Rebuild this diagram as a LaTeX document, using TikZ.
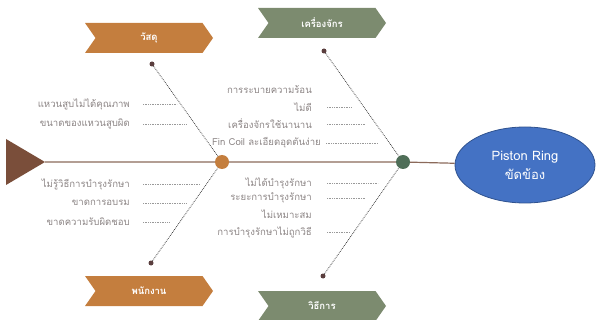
\documentclass[tikz,border=0pt]{standalone}
\usepackage{fontspec}
\newfontfamily\thai[Script=Thai]{Loma}
\usetikzlibrary{shapes.symbols,shapes.geometric}
\definecolor{orng}{HTML}{C47E3E}
\definecolor{grn}{HTML}{7C8B6F}
\definecolor{dgrn}{HTML}{4F6E58}
\definecolor{brn}{HTML}{7A4E3A}
\definecolor{spine}{HTML}{8B6A5A}
\definecolor{txt}{HTML}{8C8585}
\definecolor{blu}{HTML}{4472C4}
\definecolor{dblu}{HTML}{2F528F}
\definecolor{enddot}{HTML}{5A3E3E}
\tikzset{
  banner/.style={signal, signal to=east, signal from=west, signal pointer angle=110,
    minimum width=128pt, minimum height=30pt, inner sep=0pt, text=white,
    font=\thai\bfseries\fontsize{9.5}{11}\selectfont},
  cause/.style={anchor=east, inner sep=0pt, text=txt, font=\thai\fontsize{9.6}{11}\selectfont},
  bone/.style={draw=gray!55!black, densely dotted, line width=0.8pt},
  tick/.style={draw=gray!80, densely dotted, line width=0.7pt},
  enddotn/.style={circle, fill=enddot, inner sep=0pt, minimum size=5pt},
  joint/.style={circle, inner sep=0pt, minimum size=14pt}
}
\begin{document}
\begin{tikzpicture}[x=1pt,y=-1pt]
\useasboundingbox (0,0) rectangle (596,320);
% tail triangle
\fill[brn] (6,139) -- (45,162) -- (6,185) -- cycle;
\coordinate (tail) at (45,162);
% joints
\node[joint, fill=orng] (j1) at (222,162) {};
\node[joint, fill=dgrn] (j2) at (403,162) {};
% effect
\node[ellipse, draw=dblu, line width=0.8pt, fill=blu, minimum width=140pt, minimum height=76pt,
  text=white, align=center, font=\thai\fontsize{13}{19}\selectfont] (eff) at (525,165) {Piston Ring\\ขัดข้อง};
% spine
\draw[spine, line width=1.2pt] (tail) -- (j1) -- (j2) -- (eff);
% banners
\node[banner, fill=orng] (b1) at (149,38) {วัสดุ};
\node[banner, fill=grn] (b2) at (322,23) {เครื่องจักร};
\node[banner, fill=orng] (b3) at (149,291) {พนักงาน};
\node[banner, fill=grn] (b4) at (322,306) {วิธีการ};
% end dots
\node[enddotn] (d1) at (152,64) {};
\node[enddotn] (d2) at (324,51) {};
\node[enddotn] (d3) at (151,263) {};
\node[enddotn] (d4) at (323,276) {};
\draw[bone] (d1) -- (j1);
\draw[bone] (d3) -- (j1);
\draw[bone] (d2) -- (j2);
\draw[bone] (d4) -- (j2);
% causes: material
\node[cause] (c1) at (130,104) {แหวนสูบไม่ได้คุณภาพ};
\node[cause] (c2) at (130,124) {ขนาดของแหวนสูบผิด};
\coordinate (t1a) at (143,104); \coordinate (t1b) at (177,104);
\coordinate (t2a) at (143,124); \coordinate (t2b) at (187,124);
\draw[tick] (t1a) -- (t1b);
\draw[tick] (t2a) -- (t2b);
% causes: staff
\node[cause] (c3) at (130,184) {ไม่รู้วิธีการบำรุงรักษา};
\node[cause] (c4) at (130,203) {ขาดการอบรม};
\node[cause] (c5) at (130,222) {ขาดความรับผิดชอบ};
\coordinate (t3a) at (143,184); \coordinate (t3b) at (200,184);
\coordinate (t4a) at (143,203); \coordinate (t4b) at (187,203);
\coordinate (t5a) at (143,222); \coordinate (t5b) at (170,222);
\draw[tick] (t3a) -- (t3b);
\draw[tick] (t4a) -- (t4b);
\draw[tick] (t5a) -- (t5b);
% causes: machine
\node[cause] (c6) at (312,90) {การระบายความร้อน};
\node[cause] (c7) at (312,107) {ไม่ดี};
\node[cause] (c8) at (312,124) {เครื่องจักรใช้นานาน};
\node[cause] (c9) at (321,143) {Fin Coil ละเอียดอุดตันง่าย};
\coordinate (t7a) at (327,107); \coordinate (t7b) at (352,107);
\coordinate (t8a) at (327,124); \coordinate (t8b) at (365,124);
\coordinate (t9a) at (326,143); \coordinate (t9b) at (378,143);
\draw[tick] (t7a) -- (t7b);
\draw[tick] (t8a) -- (t8b);
\draw[tick] (t9a) -- (t9b);
% causes: method
\node[cause] (c10) at (312,183) {ไม่ได้บำรุงรักษา};
\node[cause] (c11) at (312,198) {ระยะการบำรุงรักษา};
\node[cause] (c12) at (312,214) {ไม่เหมาะสม};
\node[cause] (c13) at (312,232) {การบำรุงรักษาไม่ถูกวิธี};
\coordinate (t10a) at (327,183); \coordinate (t10b) at (378,183);
\coordinate (t11a) at (327,198); \coordinate (t11b) at (365,198);
\coordinate (t13a) at (327,232); \coordinate (t13b) at (350,232);
\draw[tick] (t10a) -- (t10b);
\draw[tick] (t11a) -- (t11b);
\draw[tick] (t13a) -- (t13b);
\end{tikzpicture}
\end{document}
